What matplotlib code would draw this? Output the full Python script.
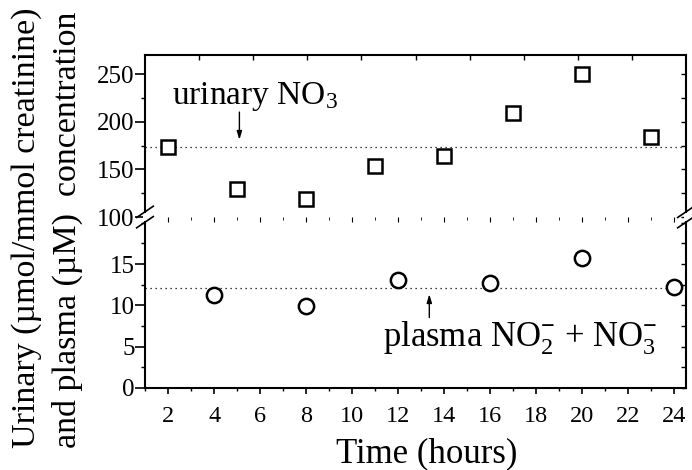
import matplotlib
matplotlib.use("Agg")
import matplotlib.pyplot as plt
from matplotlib.ticker import MultipleLocator

plt.rcParams["font.family"] = ["Liberation Serif", "DejaVu Serif"]
plt.rcParams["mathtext.fontset"] = "custom"
plt.rcParams["mathtext.rm"] = "Liberation Serif"
plt.rcParams["mathtext.it"] = "Liberation Serif:italic"
plt.rcParams["mathtext.bf"] = "Liberation Serif:bold"

# Urinary nitrate (umol/mmol creatinine)
urine_hours = [2, 5, 8, 11, 14, 17, 20, 23]
urine_no3 = [173, 129, 119, 154, 164, 209, 250, 184]
urine_mean = 173

# Plasma nitrite + nitrate (uM)
plasma_hours = [4, 8, 12, 16, 20, 24]
plasma_nox = [11.2, 9.9, 13.1, 12.7, 15.7, 12.2]
plasma_mean = 12.1

x_ticks = list(range(2, 25, 2))
lower_yticks = [0, 5, 10, 15]
upper_yticks = [100, 150, 200, 250]

fig = plt.figure(figsize=(6.92, 4.70), dpi=100)
left, right = 145 / 692, 686 / 692
bottom, brk, top = 1 - 388 / 470, 1 - 217 / 470, 1 - 55 / 470
ax_lo = fig.add_axes([left, bottom, right - left, brk - bottom])
ax_up = fig.add_axes([left, brk, right - left, top - brk], sharex=ax_lo)

LW = 1.5
xtick_fs = 17.5
ytick_fs = 18
for ax in (ax_lo, ax_up):
    for s in ax.spines.values():
        s.set_linewidth(LW)
ax_lo.spines["top"].set_visible(False)
ax_up.spines["bottom"].set_visible(False)

ax_lo.set_xlim(1, 24.5)
ax_lo.set_ylim(0, 20.7)
ax_up.set_ylim(100, 270)

# lower panel: plasma
ax_lo.axhline(plasma_mean, color="black", lw=0.9, ls=(0, (1, 3)))
ax_lo.plot(plasma_hours, plasma_nox, ls="none", marker="o", ms=11,
           mfc="white", mec="black", mew=1.8, clip_on=False, zorder=3)

# upper panel: urinary
ax_up.axhline(urine_mean, color="black", lw=0.9, ls=(0, (1, 3)))
ax_up.plot(urine_hours, urine_no3, ls="none", marker="s", ms=10.5,
           mfc="white", mec="black", mew=1.8, clip_on=False, zorder=3)

# ticks
ax_lo.set_xticks(x_ticks)
ax_lo.xaxis.set_minor_locator(MultipleLocator(1))
ax_lo.tick_params(axis="x", which="major", direction="out", length=4.5,
                  width=1.2, labelsize=xtick_fs, pad=8.5)
ax_lo.tick_params(axis="x", which="minor", direction="out", length=2.2, width=1)
ax_up.tick_params(axis="x", which="both", bottom=False, labelbottom=False)

ax_lo.set_yticks(lower_yticks)
ax_lo.yaxis.set_minor_locator(MultipleLocator(2.5))
ax_up.set_yticks(upper_yticks)
ax_up.yaxis.set_minor_locator(MultipleLocator(25))
for ax in (ax_lo, ax_up):
    ax.tick_params(axis="y", which="major", direction="out", length=7,
                   width=1.2, labelsize=ytick_fs, pad=0.5)
    ax.tick_params(axis="y", which="minor", direction="out", length=3, width=1)

# right-hand inner ticks
for ax, step in ((ax_lo, 2.5), (ax_up, 25)):
    tw = ax.twinx()
    tw.set_ylim(ax.get_ylim())
    tw.yaxis.set_major_locator(MultipleLocator(step))
    tw.tick_params(axis="y", direction="in", length=3.6, width=1, labelright=False)
    for s in tw.spines.values():
        s.set_visible(False)

# top inner ticks at tenths of the width
tt = ax_up.twiny()
tt.set_xlim(0, 10)
tt.set_xticks(range(1, 10))
tt.tick_params(axis="x", direction="in", length=3.6, width=1, labeltop=False)
for s in tt.spines.values():
    s.set_visible(False)

# axis break marks
d = 0.012
for xa in (0, 1):
    xf = left + xa * (right - left)
    fig.add_artist(plt.Rectangle((xf - 0.003, brk - 0.008), 0.006, 0.016,
                                 transform=fig.transFigure, facecolor="white",
                                 edgecolor="none", zorder=5))
    for off in (-0.011, 0.011):
        fig.add_artist(plt.Line2D([xf - d, xf + d],
                                  [brk + off - 0.012, brk + off + 0.012],
                                  transform=fig.transFigure, color="black",
                                  lw=1.2, clip_on=False, zorder=6))

# annotations
arrow = dict(arrowstyle="-|>,head_length=0.5,head_width=0.15", color="black", lw=1)
ax_up.text(5.8, 219, r"urinary NO$_3$", fontsize=24, ha="center", va="baseline")
ax_up.annotate("", xy=(5.1, 178), xytext=(5.1, 213), arrowprops=arrow)
ax_lo.text(17.3, 5.0, r"plasma NO$_2^{\mathbf{-}}$ + NO$_3^{\mathbf{-}}$",
           fontsize=25, ha="center", va="baseline")
ax_lo.annotate("", xy=(13.35, 11.7), xytext=(13.35, 8.2), arrowprops=arrow)

ax_lo.set_xlabel("Time (hours)", fontsize=25)
ax_lo.xaxis.set_label_coords(0.52, -0.29)
fig.text(0.068, 1 - 448 / 470,
         "Urinary (\u00b5mol/mmol creatinine)\nand plasma (\u00b5M)  concentration",
         rotation=90, ha="center", va="bottom", multialignment="left",
         fontsize=24.5, linespacing=1.4)

fig.savefig("out.png", dpi=100)
